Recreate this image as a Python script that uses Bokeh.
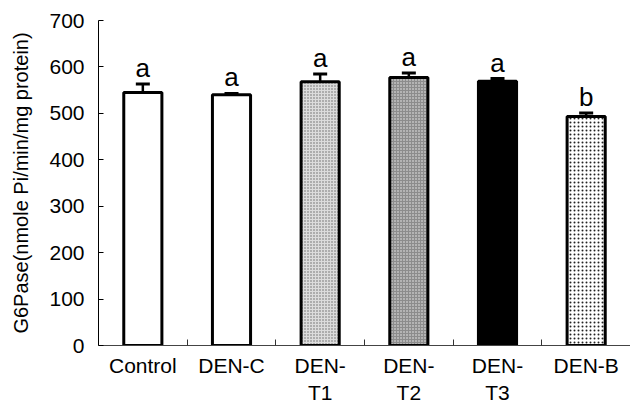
from bokeh.plotting import figure
from bokeh.models import ColumnDataSource, FixedTicker, Range1d, Whisker, TeeHead
from bokeh.embed import file_html
from bokeh.resources import INLINE
from bokeh.core.properties import value

groups = ["Control", "DEN-C", "DEN-\nT1", "DEN-\nT2", "DEN-\nT3", "DEN-B"]
g6pase = [545, 540, 568, 577, 569, 493]
errors = [18, 3, 17, 10, 6, 8]
letters = ["a", "a", "a", "a", "a", "b"]
y_ticks = [0, 100, 200, 300, 400, 500, 600, 700]

fills = ["white", "white", "#dcdcdc", "#8c8c8c", "black", "white"]
hatches = [" ", " ", "dot", "dot", " ", "dot"]
hatch_cols = ["black", "black", "#666666", "#f0f0f0", "black", "#222222"]
hatch_scales = [4, 4, 3, 3, 4, 4]

xs = [i + 0.5 for i in range(len(groups))]
src = ColumnDataSource(dict(
    x=xs, top=g6pase,
    upper=[v + e for v, e in zip(g6pase, errors)],
    letters=letters, fill=fills, hatch=hatches, hcol=hatch_cols, hscale=hatch_scales,
))

FONT = "Liberation Sans"

p = figure(width=630, height=407, output_backend="svg", toolbar_location=None,
           x_range=Range1d(0, 6), y_range=Range1d(0, 700),
           min_border_left=98, min_border_right=0, min_border_top=20, min_border_bottom=62)
p.outline_line_color = None
p.xgrid.visible = False
p.ygrid.visible = False
p.background_fill_color = "white"

p.vbar(x="x", top="top", width=0.43, bottom=0, source=src,
       fill_color="fill", line_color="black", line_width=3,
       hatch_pattern="hatch", hatch_color="hcol", hatch_scale="hscale", hatch_weight=1)

w = Whisker(base="x", upper="upper", lower="top", source=src, line_width=2.5,
            line_color="black",
            upper_head=TeeHead(size=14, line_width=3, line_color="black"),
            lower_head=None)
p.add_layout(w)

p.text(x="x", y="upper", text="letters", source=src, text_align="center",
       text_baseline="bottom", y_offset=-1, text_font=value(FONT),
       text_font_size="26px", text_color="black")

# y axis
p.yaxis.ticker = FixedTicker(ticks=y_ticks)
p.yaxis.axis_label = "G6Pase(nmole Pi/min/mg protein)"
p.yaxis.axis_label_text_font = FONT
p.yaxis.axis_label_text_font_style = "normal"
p.yaxis.axis_label_text_font_size = "20px"
p.yaxis.axis_label_text_color = "black"
p.yaxis.axis_label_standoff = 14
p.yaxis.major_label_text_font = FONT
p.yaxis.major_label_text_font_size = "21px"
p.yaxis.major_label_text_color = "black"
p.yaxis.major_label_standoff = 14
p.yaxis.major_tick_in = 5
p.yaxis.major_tick_out = 0
p.yaxis.minor_tick_line_color = None
p.yaxis.axis_line_color = "black"

# x axis
p.xaxis.ticker = FixedTicker(ticks=xs, minor_ticks=[1, 2, 3, 4, 5])
p.xaxis.major_label_overrides = {x: g for x, g in zip(xs, groups)}
p.xaxis.major_label_text_font = FONT
p.xaxis.major_label_text_font_size = "21px"
p.xaxis.major_label_text_color = "black"
p.xaxis.major_label_standoff = 8
p.xaxis.major_tick_in = 0
p.xaxis.major_tick_out = 0
p.xaxis.minor_tick_in = 6
p.xaxis.minor_tick_out = 0
p.xaxis.minor_tick_line_color = "#333333"
p.xaxis.axis_line_color = "#444444"

open("out.html", "w").write(file_html(p, INLINE))
